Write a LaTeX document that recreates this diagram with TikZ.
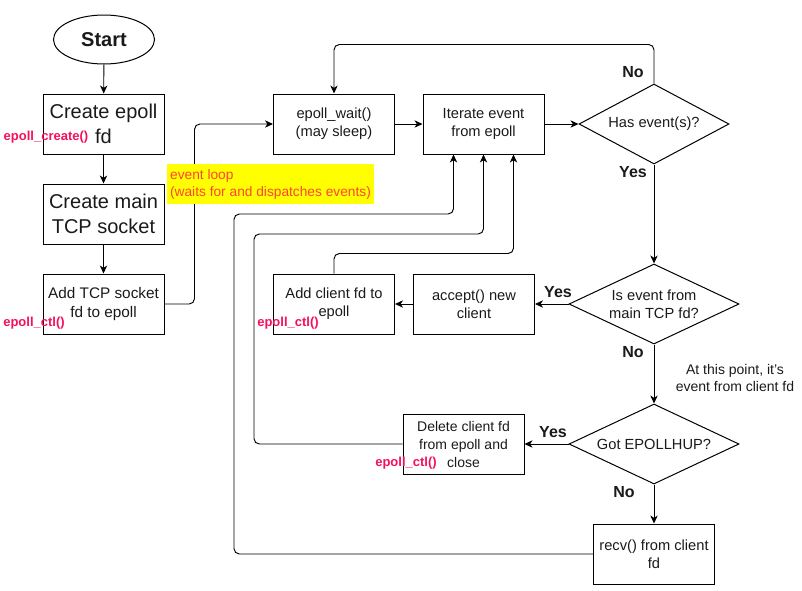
\documentclass[tikz,border=0pt]{standalone}
\usepackage{fontspec}
\setmainfont{Liberation Sans}
\usetikzlibrary{shapes.geometric,arrows.meta}
\definecolor{txt}{HTML}{1A1A1A}
\definecolor{notered}{HTML}{FF4433}
\definecolor{ctlred}{HTML}{F5105A}
\definecolor{noteyellow}{HTML}{FFFF00}
\tikzset{
  box/.style={draw=black, line width=0.75pt, rectangle, minimum width=90.75pt, minimum height=45pt, inner sep=1pt, align=center, text=txt, font=\fontsize{11}{13.5}\selectfont},
  bigbox/.style={box, font=\fontsize{15}{18.75}\selectfont},
  dec/.style={draw=black, line width=0.75pt, diamond, aspect=2.125, inner sep=0pt, minimum width=127.5pt, minimum height=60pt, align=center, text=txt, font=\fontsize{11}{13.5}\selectfont},
  arr/.style={draw=black, line width=0.7pt, rounded corners=4pt, -{Stealth[length=6pt,width=5.5pt,inset=1.8pt]}},
  yn/.style={font=\bfseries\fontsize{12}{14}\selectfont, text=txt, inner sep=0pt},
  ctl/.style={font=\bfseries\fontsize{9.75}{11}\selectfont, text=ctlred, inner sep=0pt},
  plain/.style={font=\fontsize{10.5}{13}\selectfont, text=txt, align=center, inner sep=0pt}
}
\begin{document}
\begin{tikzpicture}[x=0.75pt, y=-0.75pt]
\useasboundingbox (0,0) rectangle (802,590);
% left column
\node[ellipse, draw=black, line width=0.75pt, minimum width=75.75pt, minimum height=36.75pt, font=\bfseries\fontsize{15}{18}\selectfont, text=txt] (start) at (104,39.5) {Start};
\node[bigbox] (ce) at (103.5,124) {Create epoll\\fd};
\node[bigbox] (cm) at (103.5,214) {Create main\\TCP socket};
\node[box, font=\fontsize{11.5}{14.5}\selectfont] (at) at (103.5,304) {Add TCP socket\\fd to epoll};
% loop nodes
\node[box] (ew) at (334,124) {epoll\_wait()\\(may sleep)};
\node[box] (it) at (483.5,124) {Iterate event\\from epoll};
\node[dec, minimum width=112.5pt] (he) at (654,124) {Has event(s)?};
\node[dec] (ie) at (654,304) {Is event from\\main TCP fd?};
\node[dec] (ge) at (654,444) {Got EPOLLHUP?};
\node[box] (rv) at (654,554) {recv() from client\\fd};
\node[box] (ac) at (474,304) {accept() new\\client};
\node[box] (ad) at (334,304) {Add client fd to\\epoll};
\node[box, font=\fontsize{10.5}{13.5}\selectfont] (dl) at (463.5,444) {Delete client fd\\from epoll and\\close};
% connectors
\draw[arr] (start) -- (ce);
\draw[arr] (ce) -- (cm);
\draw[arr] (cm) -- (at);
\draw[arr] (at.east) -- ++(30,0) |- (ew.west);
\draw[arr] (ew) -- (it);
\draw[arr] (it) -- (he);
\draw[arr] (he.north) -- ++(0,-39) -| (ew.north);
\draw[arr] (he.south) -- (ie.north);
\draw[arr] (ie.west) -- (ac.east);
\draw[arr] (ac.west) -- (ad.east);
\draw[arr] (ie.south) -- (ge.north);
\draw[arr] (ge.west) -- (dl.east);
\draw[arr] (ge.south) -- (rv.north);
\draw[arr] (ad.north) -- ++(0,-20) -| ([xshift=22.5pt]it.south);
\draw[arr] (dl.west) -| (254,234) -| (it.south);
\draw[arr] (rv.west) -| (234,214) -| ([xshift=-22.5pt]it.south);
% note (drawn over the connector)
\node[fill=noteyellow, minimum width=155.25pt, minimum height=29.5pt, inner sep=1.5pt, align=left, text=notered, font=\fontsize{10.3}{12.75}\selectfont] (note) at (270.5,184) {event loop\\(waits for and dispatches events)};
% labels
\node[yn] (no1) at (633,72) {No};
\node[yn] (yes1) at (633,172) {Yes};
\node[yn] (yes2) at (558,292) {Yes};
\node[yn] (no2) at (633,352) {No};
\node[yn] (yes3) at (553,432) {Yes};
\node[yn] (no3) at (624,492) {No};
\node[plain] (hint) at (735,378) {At this point, it's\\event from client fd};
\node[ctl] (c1) at (46,137) {epoll\_create()};
\node[ctl] (c2) at (34,323) {epoll\_ctl()};
\node[ctl] (c3) at (288,323) {epoll\_ctl()};
\node[ctl] (c4) at (406,463) {epoll\_ctl()};
\end{tikzpicture}
\end{document}
